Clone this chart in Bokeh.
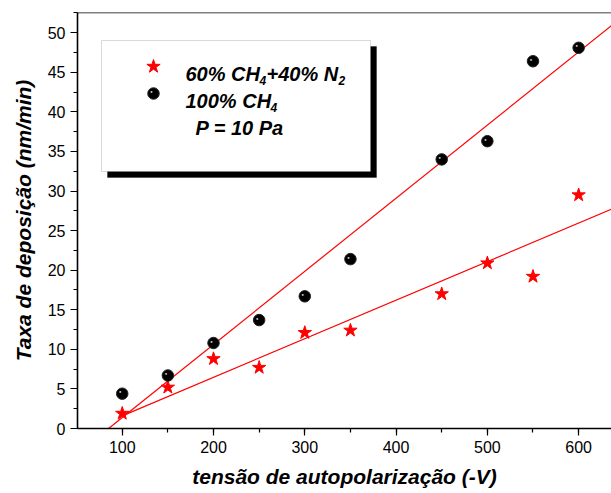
import numpy as np
from bokeh.plotting import figure
from bokeh.models import Range1d, SingleIntervalTicker, Label, BoxAnnotation, Span
from bokeh.core.properties import value
from bokeh.embed import file_html
from bokeh.resources import INLINE

# ---- data ----
bias_v = [100, 150, 200, 250, 300, 350, 450, 500, 550, 600]
rate_mix = [1.9, 5.2, 8.8, 7.7, 12.1, 12.4, 17.0, 20.9, 19.2, 29.5]   # 60% CH4 + 40% N2
rate_ch4 = [4.4, 6.7, 10.8, 13.7, 16.7, 21.4, 34.0, 36.3, 46.4, 48.1]  # 100% CH4
fit_mix = [0.0487, -3.27]   # slope, intercept of the linear fit
fit_ch4 = [0.0924, -7.86]
x_title = "tensão de autopolarização (-V)"
y_title = "Taxa de deposição (nm/min)"

# ---- layout ----
X0, X1 = 51, 636
Y0, Y1 = 0, 52.56
W, H = 611, 493
BL, BR, BT, BB = 77, 0, 12, 65
FW = W - BL - BR
FH = H - BT - BB
FONT = "Liberation Sans"


def dx(px):
    return X0 + (px - BL) / FW * (X1 - X0)


def dy(py):
    return Y0 + (BT + FH - py) / FH * (Y1 - Y0)


p = figure(width=W, height=H, x_range=Range1d(X0, X1), y_range=Range1d(Y0, Y1),
           output_backend="svg", toolbar_location=None,
           min_border_left=BL, min_border_right=BR, min_border_top=BT, min_border_bottom=BB)
p.outline_line_color = None
p.grid.visible = False
p.background_fill_color = "white"
p.border_fill_color = "white"

for ax in (p.xaxis[0], p.yaxis[0]):
    ax.axis_line_width = 1.6
    ax.axis_line_color = "black"
    ax.major_tick_line_color = "black"
    ax.minor_tick_line_color = "black"
    ax.major_tick_line_width = 1.2
    ax.minor_tick_line_width = 1.2
    ax.major_tick_in = 0
    ax.major_tick_out = 7
    ax.minor_tick_in = 0
    ax.minor_tick_out = 4
    ax.major_label_text_font = FONT
    ax.major_label_text_font_size = "16px"
    ax.major_label_text_color = "black"
    ax.major_label_standoff = 5
    ax.axis_label_text_font = FONT
    ax.axis_label_text_font_style = "bold italic"
    ax.axis_label_text_font_size = "21px"
    ax.axis_label_text_color = "black"

p.xaxis.ticker = SingleIntervalTicker(interval=100, num_minor_ticks=2)
p.yaxis.ticker = SingleIntervalTicker(interval=5, num_minor_ticks=2)
p.xaxis.axis_label = x_title
p.yaxis.axis_label = y_title
p.xaxis.axis_label_standoff = 9
p.yaxis.axis_label_standoff = 10

p.add_layout(Span(location=Y1, dimension="width", line_color="black", line_width=1.6))

# ---- fit lines ----
a, b = fit_ch4
xs_c = [-b / a, X1]
p.line(xs_c, [a * x + b for x in xs_c], line_color="#ff0000", line_width=1.2)
a, b = fit_mix
xs_m = [bias_v[0], X1]
p.line(xs_m, [a * x + b for x in xs_m], line_color="#ff0000", line_width=1.2)

# ---- markers ----
p.scatter(bias_v, rate_mix, marker="star", size=14, fill_color="#ff0000", line_color="#ff0000")
p.scatter(bias_v, rate_ch4, marker="circle", size=11.5, fill_color="black", line_color="#222222")
p.text(bias_v, rate_ch4, text=["●"] * len(bias_v), text_font_size="4px", text_color="#e8e8e8",
       x_offset=-2, y_offset=-2, text_align="center", text_baseline="middle")

# ---- legend box ----
SH = 6
p.add_layout(BoxAnnotation(left=dx(101 + SH), right=dx(370 + SH), top=dy(40 + SH), bottom=dy(171 + SH),
                           fill_color="black", fill_alpha=1.0, line_color="black"))
p.add_layout(BoxAnnotation(left=dx(101), right=dx(370), top=dy(40), bottom=dy(171),
                           fill_color="white", fill_alpha=1.0, line_color="#808080", line_width=1))

r1 = p.scatter([dx(153)], [dy(66)], marker="star", size=14, fill_color="#ff0000", line_color="#ff0000")
r2 = p.scatter([dx(153)], [dy(93)], marker="circle", size=11.5, fill_color="black", line_color="#222222")
r3 = p.text([dx(153)], [dy(93)], text=["●"], text_font_size="4px", text_color="#e8e8e8",
            x_offset=-2, y_offset=-2, text_align="center", text_baseline="middle")
for r in (r1, r2, r3):
    r.level = "overlay"


def lab(px, py, txt, size):
    p.add_layout(Label(x=dx(px), y=dy(py), text=txt, text_font=FONT, text_font_style="bold italic",
                       text_font_size=size, text_color="black", text_baseline="alphabetic",
                       text_align="left"))


# line 1: 60% CH4+40% N2
lab(185, 73, "60% CH", "20px")
lab(259, 80, "4", "12px")
lab(266, 73, "+40% N", "20px")
lab(338, 80, "2", "12px")
# line 2: 100% CH4
lab(185, 100, "100% CH", "20px")
lab(270, 107, "4", "12px")
# line 3
lab(195, 127, "P = 10 Pa", "20px")

open("out.html", "w").write(file_html(p, INLINE))
